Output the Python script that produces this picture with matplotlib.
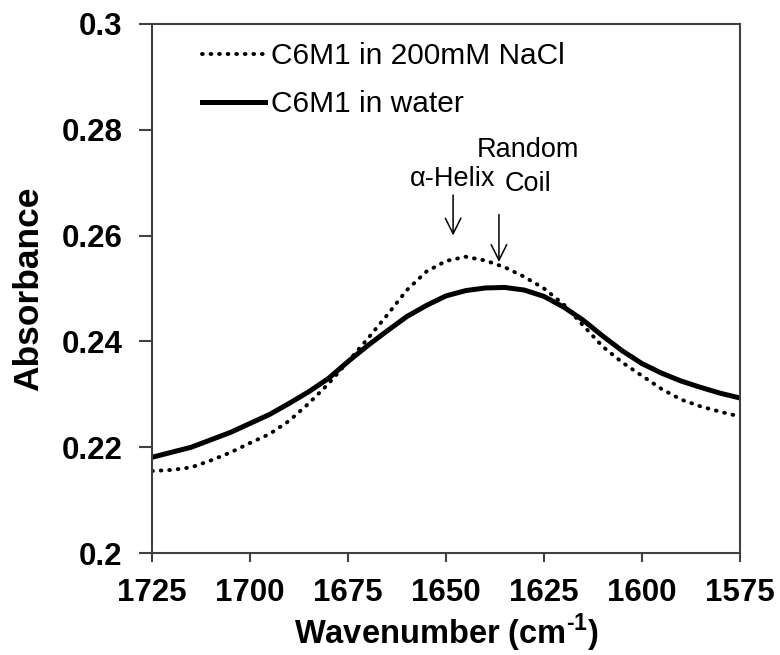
import matplotlib
matplotlib.use("Agg")
import matplotlib.pyplot as plt

plt.rcParams['font.family'] = ['Liberation Sans', 'DejaVu Sans']
plt.rcParams['mathtext.fontset'] = 'custom'
plt.rcParams['mathtext.rm'] = 'Liberation Sans:bold'
plt.rcParams['mathtext.bf'] = 'Liberation Sans:bold'

# data
wn_water = [1725, 1715, 1710, 1705, 1700, 1695, 1690, 1685, 1680, 1675, 1670, 1665,
            1660, 1655, 1650, 1645, 1640, 1635, 1630, 1625, 1620, 1615, 1610, 1605,
            1600, 1595, 1590, 1585, 1580, 1575]
abs_water = [0.2181, 0.2200, 0.2214, 0.2228, 0.2245, 0.2262, 0.2283, 0.2305, 0.2330,
             0.2362, 0.2392, 0.2420, 0.2447, 0.2468, 0.2486, 0.2496, 0.2501, 0.2502,
             0.2497, 0.2485, 0.2465, 0.2440, 0.2410, 0.2382, 0.2358, 0.2340, 0.2325,
             0.2313, 0.2302, 0.2293]

wn_nacl = [1725, 1720, 1715, 1710, 1705, 1700, 1695, 1690, 1685, 1680, 1675, 1670,
           1665, 1660, 1655, 1650, 1645, 1640, 1635, 1630, 1625, 1620, 1615, 1610,
           1605, 1600, 1595, 1590, 1585, 1580, 1575]
abs_nacl = [0.2155, 0.2157, 0.2162, 0.2175, 0.2190, 0.2208, 0.2225, 0.2250, 0.2283,
            0.2320, 0.2362, 0.2405, 0.2450, 0.2497, 0.2532, 0.2552, 0.2560, 0.2553,
            0.2540, 0.2522, 0.2500, 0.2470, 0.2430, 0.2390, 0.2360, 0.2335, 0.2310,
            0.2290, 0.2277, 0.2267, 0.2258]

x_ticks = [1725, 1700, 1675, 1650, 1625, 1600, 1575]
y_ticks = [0.2, 0.22, 0.24, 0.26, 0.28, 0.3]
y_labels = ["0.2", "0.22", "0.24", "0.26", "0.28", "0.3"]

fig = plt.figure(figsize=(7.8, 6.55), dpi=100)
ax = fig.add_axes([0.195, 0.1557, 0.7537, 0.8077])

ax.plot(wn_nacl, abs_nacl, color='black', linewidth=2.8,
        linestyle=(0, (0.2, 2.0)), dash_capstyle='round', label='C6M1 in 200mM NaCl')
ax.plot(wn_water, abs_water, color='black', linewidth=3.6, label='C6M1 in water')

ax.set_xlim(1725, 1575)
ax.set_ylim(0.2, 0.3)
ax.set_xticks(x_ticks)
ax.set_yticks(y_ticks)
ax.set_yticklabels(y_labels)

for s in ax.spines.values():
    s.set_color('#404040')
    s.set_linewidth(1.5)
ax.tick_params(direction='out', width=1.5, color='#404040', labelsize=22.5)
ax.tick_params(axis='x', length=6.5, pad=11.5)
ax.tick_params(axis='y', length=9.4, pad=12)
for lab in ax.get_xticklabels() + ax.get_yticklabels():
    lab.set_fontweight('bold')

ax.set_xlabel(r'Wavenumber (cm$^{\text{-}1}$)', fontsize=23.5, fontweight='bold', labelpad=3)
ax.set_ylabel('Absorbance', fontsize=25.5, fontweight='bold', labelpad=12)

# annotations
ax.annotate('', xy=(1648.2, 0.2595), xytext=(1648.2, 0.2682),
            arrowprops=dict(arrowstyle='->', color='black', lw=1.1, mutation_scale=28))
ax.text(1648.3, 0.2707, 'α-Helix', fontsize=19.5, ha='center', va='center')
ax.annotate('', xy=(1636.5, 0.2545), xytext=(1636.5, 0.2645),
            arrowprops=dict(arrowstyle='->', color='black', lw=1.1, mutation_scale=28))
ax.text(1629.0, 0.2762, 'Random', fontsize=19.5, ha='center', va='center')
ax.text(1629.0, 0.2698, 'Coil', fontsize=19.5, ha='center', va='center')

ax.legend(loc='upper left', bbox_to_anchor=(0.06, 0.994), frameon=False, fontsize=21.5,
          handlelength=2.1, handletextpad=0.2, labelspacing=0.68, borderpad=0)

fig.savefig('out.png', dpi=100)
